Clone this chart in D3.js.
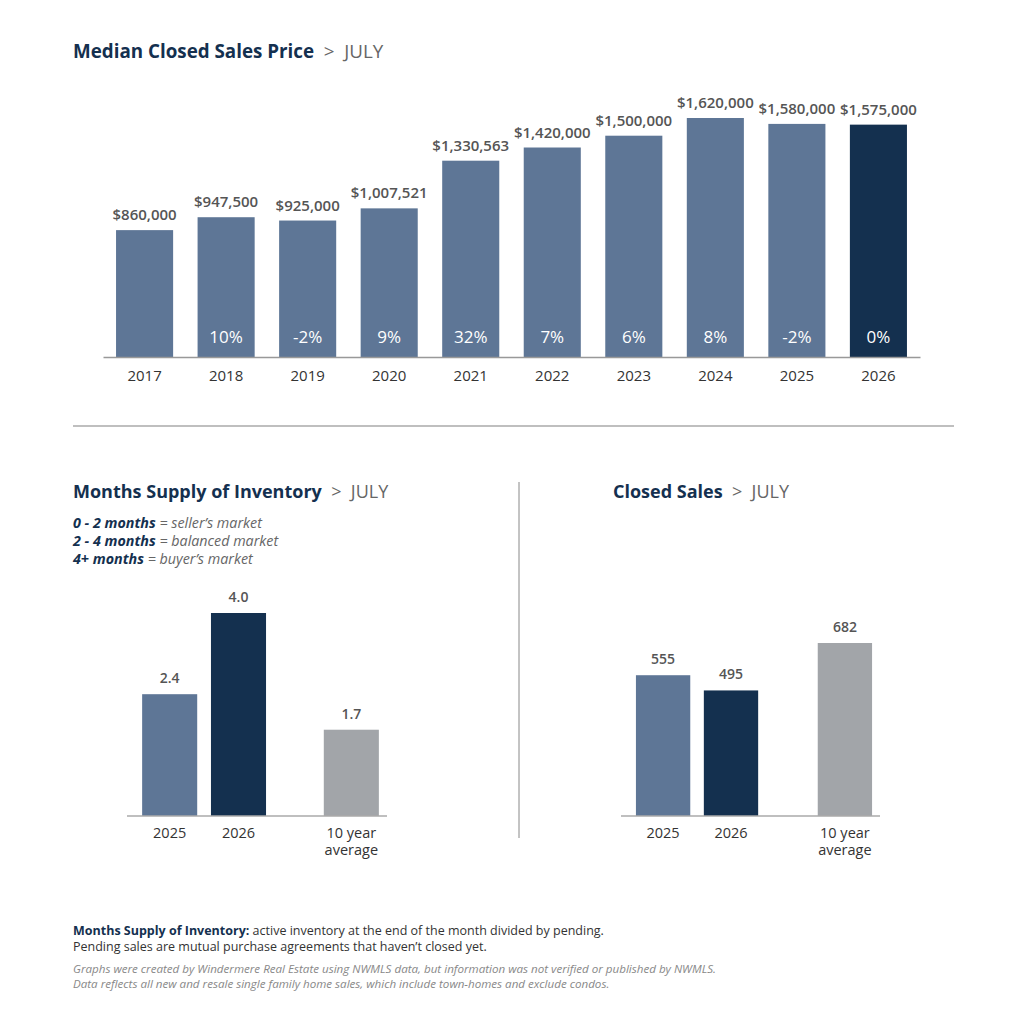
<!DOCTYPE html>
<html>
<head>
<meta charset="utf-8">
<script src="https://cdn.jsdelivr.net/npm/d3@7"></script>
<style>
  body { margin: 0; background: #fff; }
  svg { font-family: "Open Sans", "Lato", sans-serif; }
</style>
</head>
<body>
<script>
// data
const years = ["2017", "2018", "2019", "2020", "2021", "2022", "2023", "2024", "2025", "2026"];
const prices = [860000, 947500, 925000, 1007521, 1330563, 1420000, 1500000, 1620000, 1580000, 1575000];
const priceLabels = ["$860,000", "$947,500", "$925,000", "$1,007,521", "$1,330,563", "$1,420,000", "$1,500,000", "$1,620,000", "$1,580,000", "$1,575,000"];
const pctChange = ["", "10%", "-2%", "9%", "32%", "7%", "6%", "8%", "-2%", "0%"];

const compareCats = ["2025", "2026", "10 year average"];
const supplyValues = [2.4, 4.0, 1.7];
const supplyLabels = ["2.4", "4.0", "1.7"];
const closedValues = [555, 495, 682];
const closedLabels = ["555", "495", "682"];

const legendRows = [
  ["0 - 2 months", " = seller\u2019s market"],
  ["2 - 4 months", " = balanced market"],
  ["4+ months", " = buyer\u2019s market"]
];

const NAVY = "#14304f", STEEL = "#5e7696", GRAY = "#a2a5a9", TXT = "#555", AX = "#333";

const svg = d3.select("body").append("svg").attr("width", 1024).attr("height", 1024);

function title(x, y, main, size) {
  const t = svg.append("text").attr("x", x).attr("y", y).attr("font-size", size);
  t.append("tspan").attr("font-weight", 700).attr("fill", NAVY).text(main);
  t.append("tspan").attr("fill", "#666").attr("font-weight", 400).text("\u00a0\u00a0>\u00a0\u00a0JULY");
}

// ---------- top chart ----------
title(73, 58, "Median Closed Sales Price", 18.8);

const x = d3.scaleBand().domain(years).range([103, 920]).paddingInner(0.3).paddingOuter(0.16);
const y = d3.scaleLinear().domain([0, 1620000]).range([357, 118]);

const priceG = svg.append("g");
priceG.selectAll("rect.bar").data(years).enter().append("rect")
  .attr("x", d => x(d)).attr("width", x.bandwidth())
  .attr("y", (d, i) => y(prices[i])).attr("height", (d, i) => y(0) - y(prices[i]))
  .attr("fill", (d, i) => i === years.length - 1 ? NAVY : STEEL);

priceG.selectAll("text.val").data(years).enter().append("text")
  .attr("x", d => x(d) + x.bandwidth() / 2).attr("y", (d, i) => y(prices[i]) - 10)
  .attr("text-anchor", "middle").attr("font-size", 15).attr("font-weight", 600).attr("fill", TXT)
  .text((d, i) => priceLabels[i]);

priceG.selectAll("text.pct").data(years).enter().append("text")
  .attr("x", d => x(d) + x.bandwidth() / 2).attr("y", 343)
  .attr("text-anchor", "middle").attr("font-size", 17).attr("fill", "#fff")
  .text((d, i) => pctChange[i]);

const xAxis = priceG.append("g").attr("transform", "translate(0,357)")
  .call(d3.axisBottom(x).tickSize(0).tickPadding(13));
xAxis.select(".domain").attr("stroke", "#999").attr("stroke-width", 1.5);
xAxis.selectAll("text").attr("font-size", 15).attr("fill", AX).attr("font-family", "Open Sans");

// dividers
svg.append("line").attr("x1", 73).attr("x2", 954).attr("y1", 426).attr("y2", 426)
  .attr("stroke", "#aaa").attr("stroke-width", 1.5);
svg.append("line").attr("x1", 519).attr("x2", 519).attr("y1", 482).attr("y2", 838)
  .attr("stroke", "#888").attr("stroke-width", 1);

// ---------- small charts ----------
function smallChart(x0, x1, lastGap, axisEnd, vals, labels, ymax, yTop) {
  const g = svg.append("g");
  const xs = d3.scaleBand().domain(compareCats).range([x0, x1]).paddingInner(0.2).paddingOuter(0.22);
  const pos = (d, i) => xs(d) + (i === 2 ? lastGap : 0);
  const ys = d3.scaleLinear().domain([0, ymax]).range([816, yTop]);
  const colors = [STEEL, NAVY, GRAY];
  g.selectAll("rect").data(compareCats).enter().append("rect")
    .attr("x", pos).attr("width", xs.bandwidth())
    .attr("y", (d, i) => ys(vals[i])).attr("height", (d, i) => ys(0) - ys(vals[i]))
    .attr("fill", (d, i) => colors[i]);
  g.selectAll("text.val").data(compareCats).enter().append("text")
    .attr("x", (d, i) => pos(d, i) + xs.bandwidth() / 2).attr("y", (d, i) => ys(vals[i]) - 11)
    .attr("text-anchor", "middle").attr("font-size", 14).attr("font-weight", 600).attr("fill", TXT)
    .text((d, i) => labels[i]);
  g.append("line").attr("x1", x0).attr("x2", axisEnd).attr("y1", 816).attr("y2", 816)
    .attr("stroke", "#aaa").attr("stroke-width", 1.5);
  compareCats.forEach((d, i) => {
    const words = d === "10 year average" ? ["10 year", "average"] : [d];
    words.forEach((w, k) => g.append("text")
      .attr("x", pos(d, i) + xs.bandwidth() / 2).attr("y", 838 + k * 17)
      .attr("text-anchor", "middle").attr("font-size", 14.5).attr("fill", AX).text(w));
  });
}

title(73, 498, "Months Supply of Inventory", 18);
const leg = svg.append("g");
legendRows.forEach((r, i) => {
  const t = leg.append("text").attr("x", 73).attr("y", 528 + i * 18).attr("font-size", 14.3).attr("font-style", "italic");
  t.append("tspan").attr("font-weight", 700).attr("fill", NAVY).text(r[0]);
  t.append("tspan").attr("fill", "#666").text(r[1]);
});
smallChart(127, 350, 44, 387, supplyValues, supplyLabels, 4.0, 613);

title(613, 498, "Closed Sales", 18);
smallChart(621, 841, 46, 880, closedValues, closedLabels, 682, 643);

// ---------- footnotes ----------
const f1 = svg.append("text").attr("x", 73).attr("y", 935).attr("font-size", 12.5);
f1.append("tspan").attr("font-weight", 700).attr("fill", NAVY).text("Months Supply of Inventory:");
f1.append("tspan").attr("fill", AX).text(" active inventory at the end of the month divided by pending.");
svg.append("text").attr("x", 73).attr("y", 951).attr("font-size", 12.5).attr("fill", AX)
  .text("Pending sales are mutual purchase agreements that haven\u2019t closed yet.");
svg.append("text").attr("x", 73).attr("y", 973).attr("font-size", 11.6).attr("font-style", "italic").attr("fill", "#888")
  .text("Graphs were created by Windermere Real Estate using NWMLS data, but information was not verified or published by NWMLS.");
svg.append("text").attr("x", 73).attr("y", 988).attr("font-size", 11.6).attr("font-style", "italic").attr("fill", "#888")
  .text("Data reflects all new and resale single family home sales, which include town-homes and exclude condos.");
</script>
</body>
</html>
